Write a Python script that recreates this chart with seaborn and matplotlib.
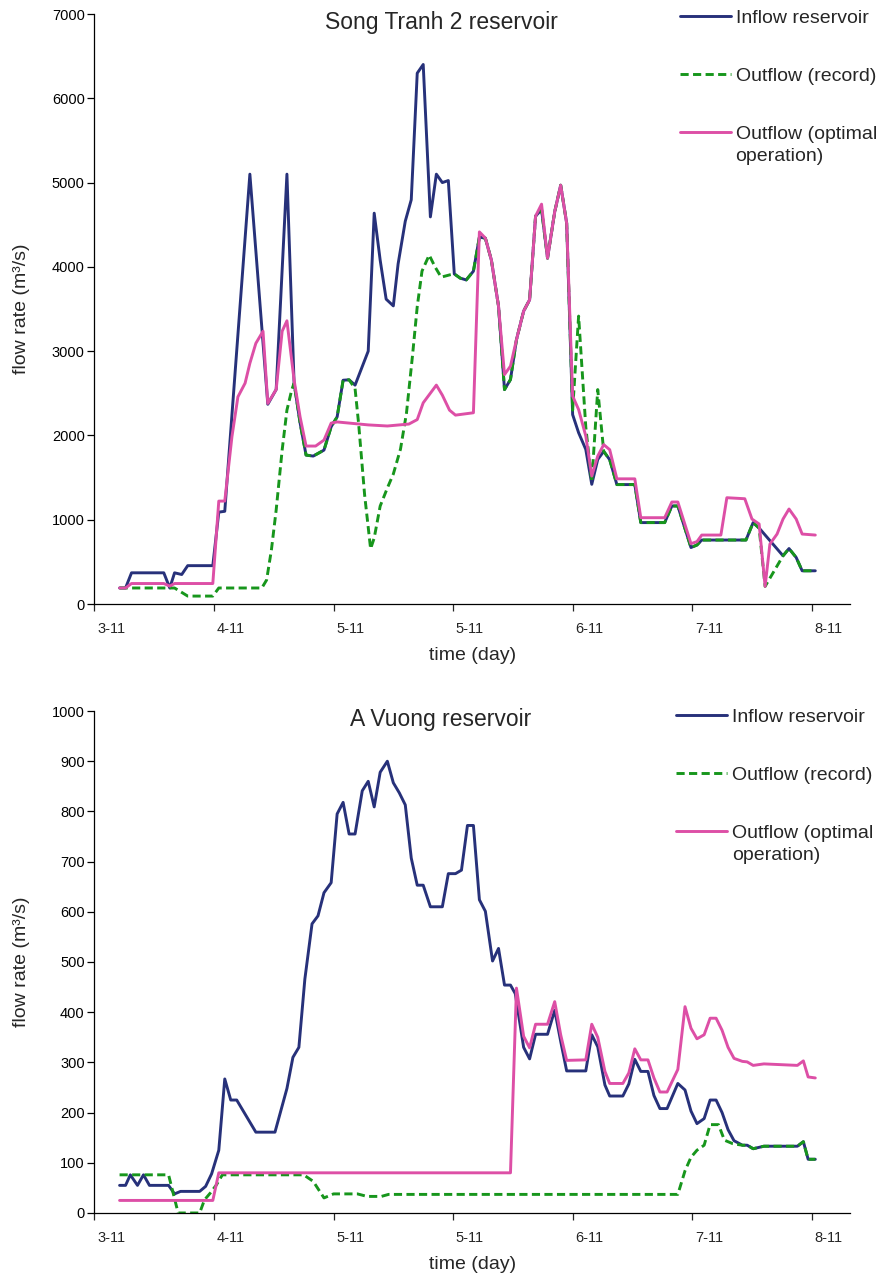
import numpy as np
import matplotlib
matplotlib.use("Agg")
import matplotlib.pyplot as plt
import seaborn as sns
from matplotlib.legend_handler import HandlerLine2D

# ---------------------------------------------------------------------------
# Data: time in days counted from the first axis tick, flow rate in m3/s
# ---------------------------------------------------------------------------
tick_days = [0, 1, 2, 3, 4, 5, 6]
tick_labels = ["3-11", "4-11", "5-11", "5-11", "6-11", "7-11", "8-11"]
series_names = ["Inflow reservoir", "Outflow (record)", "Outflow (optimal\noperation)"]

# Song Tranh 2 reservoir
st_inflow_t = [0.21, 0.26, 0.31, 0.58, 0.63, 0.67, 0.73, 0.78, 0.99, 1.04,
               1.09, 1.30, 1.45, 1.52, 1.61, 1.67, 1.72, 1.77, 1.83, 1.92,
               1.98, 2.03, 2.08, 2.13, 2.18, 2.29, 2.34, 2.39, 2.44, 2.50,
               2.54, 2.60, 2.65, 2.70, 2.75, 2.81, 2.86, 2.91, 2.96, 3.01,
               3.06, 3.11, 3.17, 3.22, 3.27, 3.32, 3.38, 3.43, 3.48, 3.53,
               3.59, 3.64, 3.69, 3.74, 3.79, 3.85, 3.90, 3.95, 4.00, 4.05,
               4.11, 4.16, 4.21, 4.26, 4.31, 4.37, 4.52, 4.57, 4.77, 4.83,
               4.88, 4.99, 5.04, 5.08, 5.45, 5.51, 5.56, 5.76, 5.81, 5.87,
               5.92, 6.03]
st_inflow_q = [190, 190, 370, 370, 190, 370, 350, 455, 455, 1090,
               1100, 5100, 2370, 2545, 5100, 2620, 2150, 1767, 1755, 1826,
               2103, 2220, 2655, 2660, 2597, 3000, 4637, 4080, 3617, 3537,
               4035, 4542, 4796, 6298, 6401, 4593, 5100, 5000, 5024, 3916,
               3866, 3845, 3949, 4353, 4340, 4082, 3534, 2544, 2663, 3136,
               3475, 3609, 4602, 4680, 4103, 4654, 4969, 4519, 2247, 2032,
               1834, 1420, 1715, 1811, 1712, 1417, 1417, 966, 966, 1163,
               1163, 670, 700, 759, 759, 966, 901, 572, 658, 552,
               394, 394]

st_record_t = [0.21, 0.67, 0.78, 0.99, 1.04, 1.40, 1.44, 1.48, 1.52, 1.57,
               1.61, 1.65, 1.67, 1.72, 1.77, 1.83, 1.92, 1.98, 2.03, 2.08,
               2.13, 2.18, 2.21, 2.26, 2.31, 2.34, 2.39, 2.45, 2.50, 2.56,
               2.61, 2.66, 2.70, 2.74, 2.80, 2.85, 2.90, 2.98, 3.01, 3.06,
               3.11, 3.17, 3.22, 3.27, 3.32, 3.38, 3.43, 3.48, 3.53, 3.59,
               3.64, 3.69, 3.74, 3.79, 3.85, 3.90, 3.95, 4.00, 4.05, 4.11,
               4.16, 4.21, 4.26, 4.31, 4.37, 4.52, 4.57, 4.77, 4.83, 4.88,
               4.99, 5.04, 5.08, 5.45, 5.51, 5.56, 5.61, 5.76, 5.81, 5.87,
               5.92, 6.03]
st_record_q = [190, 190, 94, 94, 190, 190, 285, 640, 1115, 1826,
               2300, 2540, 2620, 2150, 1767, 1755, 1826, 2103, 2220, 2655,
               2660, 2556, 2135, 1293, 655, 783, 1162, 1376, 1542, 1838,
               2265, 2941, 3528, 3950, 4140, 3997, 3878, 3908, 3916, 3866,
               3845, 3949, 4353, 4340, 4082, 3534, 2544, 2663, 3136, 3475,
               3609, 4602, 4680, 4103, 4654, 4969, 4519, 2300, 3416, 2100,
               1450, 2544, 1811, 1712, 1417, 1417, 966, 966, 1163, 1163,
               670, 700, 759, 759, 966, 901, 209, 572, 658, 552,
               394, 394]

st_optimal_t = [0.21, 0.26, 0.31, 0.58, 0.63, 0.67, 0.99, 1.04, 1.09, 1.15,
                1.20, 1.26, 1.30, 1.35, 1.41, 1.45, 1.52, 1.57, 1.61, 1.67,
                1.72, 1.77, 1.85, 1.92, 1.98, 2.03, 2.29, 2.45, 2.63, 2.70,
                2.75, 2.86, 2.91, 2.97, 3.02, 3.17, 3.22, 3.27, 3.32, 3.38,
                3.43, 3.48, 3.53, 3.59, 3.64, 3.69, 3.74, 3.79, 3.85, 3.90,
                3.95, 4.00, 4.05, 4.11, 4.16, 4.21, 4.26, 4.31, 4.37, 4.52,
                4.57, 4.77, 4.83, 4.88, 4.99, 5.04, 5.08, 5.24, 5.29, 5.44,
                5.50, 5.56, 5.61, 5.65, 5.71, 5.76, 5.81, 5.87, 5.92, 6.03]
st_optimal_q = [190, 190, 243, 243, 213, 243, 243, 1221, 1221, 1985,
                2458, 2620, 2856, 3093, 3236, 2380, 2545, 3236, 3360, 2656,
                2220, 1874, 1874, 1945, 2146, 2160, 2125, 2112, 2135, 2188,
                2387, 2597, 2478, 2300, 2241, 2269, 4415, 4341, 4082, 3534,
                2722, 2822, 3136, 3475, 3609, 4602, 4744, 4103, 4654, 4969,
                4519, 2467, 2307, 1993, 1518, 1755, 1891, 1831, 1485, 1485,
                1024, 1024, 1210, 1210, 716, 740, 818, 818, 1261, 1249,
                1008, 949, 209, 711, 830, 1008, 1127, 1008, 830, 818]

# A Vuong reservoir
av_inflow_t = [0.21, 0.26, 0.30, 0.36, 0.41, 0.46, 0.62, 0.67, 0.72, 0.88,
               0.93, 0.98, 1.04, 1.09, 1.14, 1.19, 1.35, 1.51, 1.61, 1.66,
               1.71, 1.76, 1.82, 1.87, 1.92, 1.98, 2.03, 2.08, 2.13, 2.18,
               2.24, 2.29, 2.34, 2.39, 2.45, 2.50, 2.55, 2.60, 2.65, 2.70,
               2.75, 2.81, 2.91, 2.96, 3.02, 3.07, 3.12, 3.17, 3.22, 3.27,
               3.33, 3.38, 3.43, 3.48, 3.52, 3.59, 3.64, 3.69, 3.79, 3.85,
               3.90, 3.95, 4.11, 4.16, 4.21, 4.27, 4.31, 4.42, 4.47, 4.52,
               4.57, 4.63, 4.68, 4.73, 4.79, 4.88, 4.94, 4.99, 5.04, 5.10,
               5.15, 5.20, 5.25, 5.30, 5.35, 5.42, 5.46, 5.51, 5.60, 5.88,
               5.93, 5.97, 6.03]
av_inflow_q = [55, 55, 76, 55, 76, 55, 55, 38, 43, 43,
               53, 78, 125, 267, 225, 225, 161, 161, 248, 310,
               330, 466, 576, 592, 638, 658, 795, 818, 755, 755,
               841, 860, 809, 878, 900, 857, 837, 813, 707, 653,
               653, 610, 610, 676, 676, 683, 772, 772, 624, 601,
               502, 527, 454, 454, 437, 330, 307, 356, 356, 404,
               342, 283, 283, 355, 331, 255, 233, 233, 257, 306,
               282, 282, 234, 208, 208, 258, 245, 203, 178, 188,
               225, 225, 200, 166, 144, 135, 135, 128, 133, 133,
               142, 107, 107]

av_record_t = [0.21, 0.62, 0.70, 0.88, 0.92, 0.97, 1.02, 1.07, 1.75, 1.83,
               1.92, 2.00, 2.20, 2.28, 2.40, 2.46, 4.88, 4.94, 4.99, 5.04,
               5.10, 5.15, 5.22, 5.27, 5.34, 5.42, 5.46, 5.51, 5.60, 5.88,
               5.93, 5.97, 6.03]
av_record_q = [76, 76, 0, 0, 26, 40, 56, 76, 76, 63,
               30, 38, 38, 33, 33, 37, 37, 84, 111, 125,
               135, 176, 176, 145, 138, 135, 135, 128, 133, 133,
               142, 107, 107]

av_optimal_t = [0.21, 0.99, 1.04, 3.48, 3.53, 3.59, 3.64, 3.69, 3.79, 3.85,
                3.90, 3.95, 4.11, 4.16, 4.21, 4.27, 4.31, 4.42, 4.47, 4.52,
                4.57, 4.63, 4.68, 4.73, 4.79, 4.88, 4.94, 4.99, 5.04, 5.10,
                5.15, 5.20, 5.25, 5.30, 5.35, 5.42, 5.46, 5.51, 5.60, 5.88,
                5.93, 5.97, 6.03]
av_optimal_q = [25, 25, 80, 80, 448, 352, 329, 376, 376, 421,
                355, 304, 305, 376, 350, 282, 258, 258, 279, 327,
                305, 305, 269, 241, 241, 286, 411, 368, 347, 355,
                388, 388, 364, 330, 308, 302, 301, 294, 297, 294,
                303, 271, 269]

# ---------------------------------------------------------------------------
# Styling
# ---------------------------------------------------------------------------
sns.set_style("ticks")
plt.rcParams["font.family"] = ["Liberation Sans", "DejaVu Sans"]
plt.rcParams["axes.linewidth"] = 0.9
plt.rcParams["xtick.major.width"] = 0.9
plt.rcParams["ytick.major.width"] = 0.9

C_INFLOW = "#27317A"
C_RECORD = "#17961C"
C_OPTIMAL = "#DD4FA6"
LW = 2.1
TICK_FS = 10.5
LABEL_FS = 14
LEGEND_FS = 14
TITLE_FS = 16.5


class FirstLineHandler(HandlerLine2D):
    """Line handle lifted to sit beside the first line of a two-line label."""

    def __init__(self, lift, **kw):
        super().__init__(**kw)
        self.lift = lift

    def create_artists(self, legend, orig_handle, xdescent, ydescent,
                       width, height, fontsize, trans):
        artists = super().create_artists(legend, orig_handle, xdescent, ydescent,
                                         width, height, fontsize, trans)
        for a in artists:
            a.set_ydata(np.asarray(a.get_ydata()) + self.lift * fontsize)
        return artists


def draw_panel(ax, inflow, record, optimal, ymax, ystep, title, title_y,
               legend_anchor):
    sns.lineplot(x=inflow[0], y=inflow[1], ax=ax, color=C_INFLOW, lw=LW,
                 estimator=None, sort=False, label=series_names[0])
    sns.lineplot(x=record[0], y=record[1], ax=ax, color=C_RECORD, lw=LW,
                 linestyle=(0, (2.8, 1.5)), estimator=None, sort=False,
                 label=series_names[1])
    sns.lineplot(x=optimal[0], y=optimal[1], ax=ax, color=C_OPTIMAL, lw=LW,
                 estimator=None, sort=False, label=series_names[2])

    ax.set_xlim(0, 6.32)
    ax.set_ylim(0, ymax)
    ax.set_yticks(np.arange(0, ymax + 1, ystep))
    ax.tick_params(axis="y", labelsize=TICK_FS, length=5, direction="out",
                   pad=2, colors="black")

    # tick marks at day boundaries, date labels set slightly to the right
    ax.set_xticks(tick_days)
    ax.set_xticklabels([])
    ax.set_xticks([d + 0.14 for d in tick_days], minor=True)
    ax.set_xticklabels(tick_labels, minor=True)
    ax.tick_params(axis="x", which="major", length=5, direction="out")
    ax.tick_params(axis="x", which="minor", length=0, labelsize=TICK_FS, pad=13)

    ax.set_xlabel("time (day)", fontsize=LABEL_FS, labelpad=8)
    ax.set_ylabel("flow rate (m³/s)", fontsize=LABEL_FS, labelpad=16)
    sns.despine(ax=ax)
    for s in ("left", "bottom"):
        ax.spines[s].set_color("black")

    ax.text(0.4586, title_y, title, transform=ax.transAxes, ha="center",
            va="center", fontsize=TITLE_FS)

    handles, labels = ax.get_legend_handles_labels()
    leg = ax.legend(handles, labels, loc="upper left", bbox_to_anchor=legend_anchor,
                    frameon=False, fontsize=LEGEND_FS, borderpad=0, borderaxespad=0,
                    handlelength=2.6, handletextpad=0.26, labelspacing=2.1,
                    handler_map={handles[2]: FirstLineHandler(0.7)})
    leg.get_texts()[2].set_linespacing(1.4)


fig = plt.figure(figsize=(8.82, 12.74), dpi=100)
ax_top = fig.add_axes([0.1071, 0.5259, 0.8566, 0.4631])
ax_bot = fig.add_axes([0.1071, 0.0479, 0.8566, 0.3940])

draw_panel(ax_top, (st_inflow_t, st_inflow_q), (st_record_t, st_record_q),
           (st_optimal_t, st_optimal_q), 7000, 1000, "Song Tranh 2 reservoir",
           0.9864, (0.775, 1.0085))
draw_panel(ax_bot, (av_inflow_t, av_inflow_q), (av_record_t, av_record_q),
           (av_optimal_t, av_optimal_q), 1000, 100, "A Vuong reservoir",
           0.984, (0.770, 1.006))

fig.savefig("out.png", dpi=100)
